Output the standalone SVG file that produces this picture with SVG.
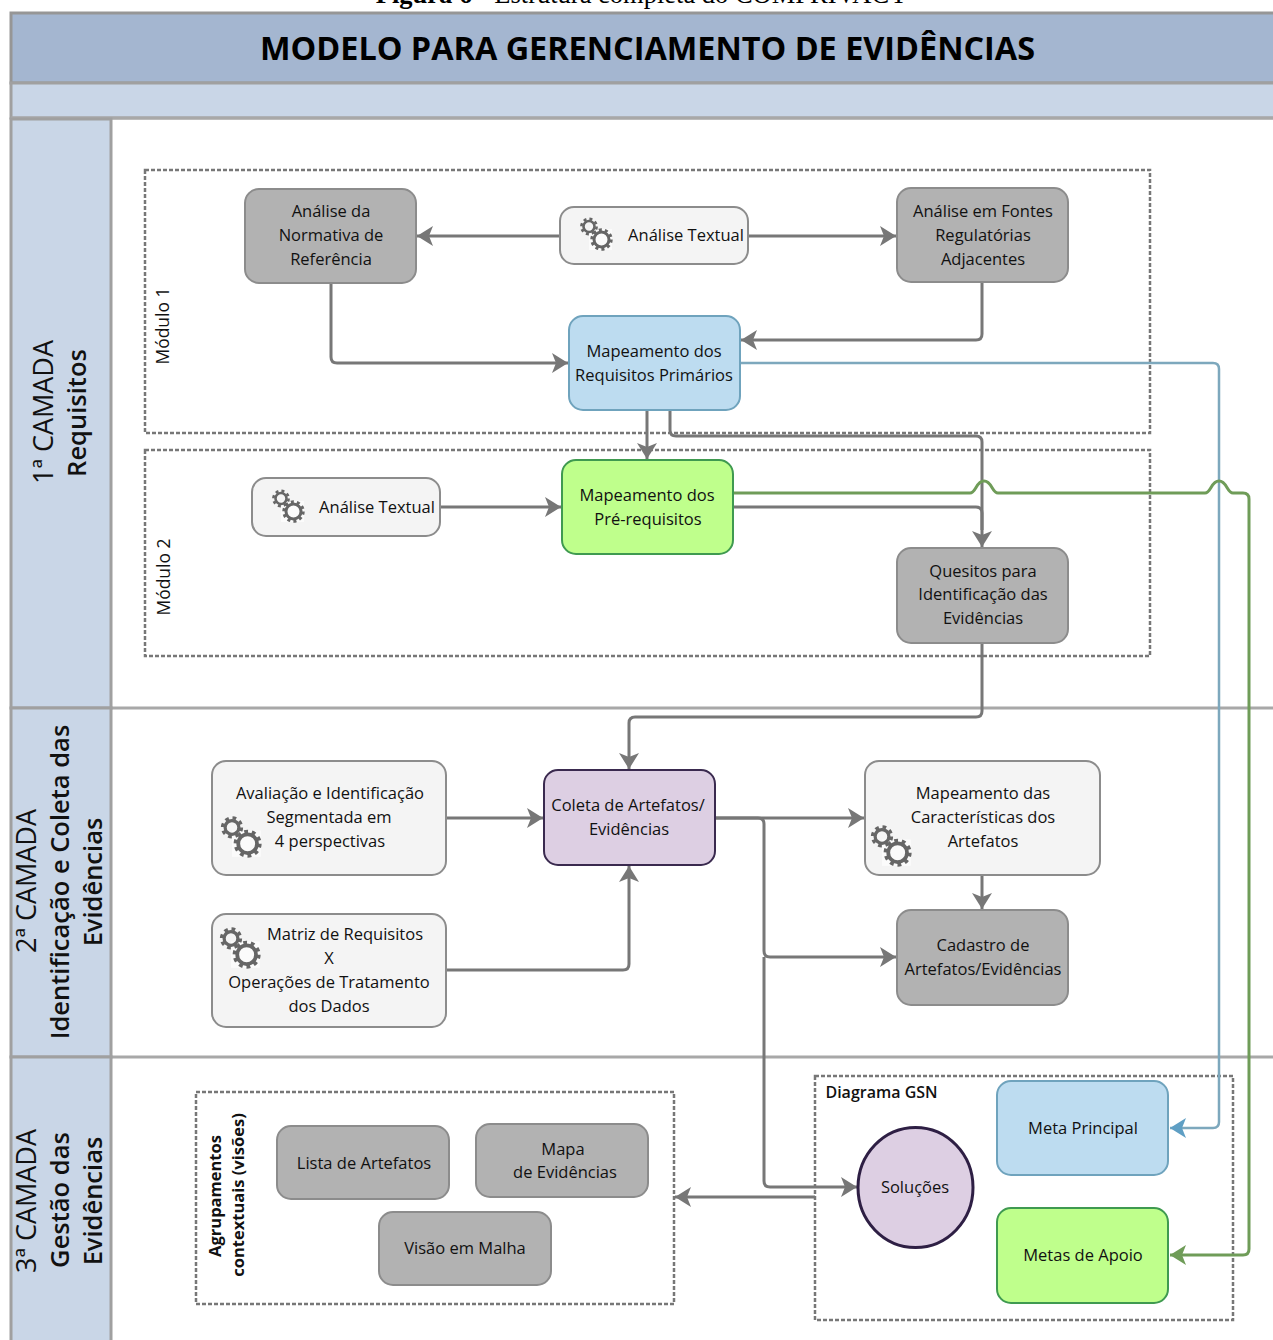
<svg xmlns="http://www.w3.org/2000/svg" width="1273" height="1340" viewBox="0 0 1273 1340">
<style>
text{font-family:"Open Sans","Liberation Sans",sans-serif;font-size:16.5px;fill:#111;text-anchor:middle}
.gray{fill:#b2b2b2;stroke:#8c8c8c;stroke-width:2}
.light{fill:#f4f4f4;stroke:#8c8c8c;stroke-width:2}
.blue{fill:#bddcf0;stroke:#6fa3bd;stroke-width:2}
.green{fill:#bfff8c;stroke:#3f9a50;stroke-width:2}
.purple{fill:#ddcfe3;stroke:#3a2a4f;stroke-width:2}
.dash{fill:none;stroke:#777;stroke-width:2.5;stroke-dasharray:4 2}
.c{fill:none;stroke:#777;stroke-width:3;stroke-linejoin:round}
.b{fill:none;stroke:#7da8bd;stroke-width:2.5;stroke-linejoin:round}
.g{fill:none;stroke:#6f9c58;stroke-width:3;stroke-linejoin:round}
.lane{fill:#c9d6e7;stroke:#a0a0a0;stroke-width:3}
.lt{font-size:27px}
.lb{font-size:25.500px;font-weight:600}
.mod{font-size:17.500px}
.agr{font-size:16.500px;font-weight:700}
</style>
<defs>
<marker id="a" markerUnits="userSpaceOnUse" markerWidth="18" markerHeight="22" refX="16" refY="11" orient="auto"><path d="M0 1L16 11L0 21L4 11Z" fill="#777"/></marker>
<marker id="ab" markerUnits="userSpaceOnUse" markerWidth="18" markerHeight="22" refX="16" refY="11" orient="auto"><path d="M0 1L16 11L0 21L4 11Z" fill="#5f9fc4"/></marker>
<marker id="ag" markerUnits="userSpaceOnUse" markerWidth="18" markerHeight="22" refX="16" refY="11" orient="auto"><path d="M0 1L16 11L0 21L4 11Z" fill="#6f9c58"/></marker>
<g id="gear" fill="none" stroke="#666">
<rect x="8" y="10" width="23" height="21" fill="#fbfbfb" stroke="none"/>
<circle cx="8" cy="7.500" r="5.500" stroke-width="2.600"/><circle cx="8" cy="7.500" r="7.600" stroke-width="2.600" stroke-dasharray="3 3"/>
<circle cx="20.500" cy="20.500" r="7.500" stroke-width="3"/><circle cx="20.500" cy="20.500" r="9.700" stroke-width="3" stroke-dasharray="3.050 3.050"/>
</g>
</defs>
<rect width="1273" height="1340" fill="#fff"/>
<text x="642" y="3" style="font-family:'Liberation Serif',serif;font-size:26.500px;fill:#000"><tspan font-weight="700">Figura 6</tspan> - Estrutura completa do COMPRIVACY</text>

<g id="header">
<rect x="11" y="13" width="1270" height="70" fill="#a4b6d0" stroke="#969696" stroke-width="3"/>
<rect x="11" y="83" width="1270" height="35" class="lane"/>
<text x="647.500" y="60" textLength="775" lengthAdjust="spacingAndGlyphs" style="font-size:33px;font-weight:700;fill:#000">MODELO PARA GERENCIAMENTO DE EVIDÊNCIAS</text>
</g>

<g id="lanes">
<path d="M11 118H1280M11 708H1280M11 1057H1280" fill="none" stroke="#a8a8a8" stroke-width="3"/>
<rect x="11" y="119" width="100" height="589" class="lane"/>
<rect x="11" y="708" width="100" height="349" class="lane"/>
<rect x="11" y="1057" width="100" height="290" class="lane"/>
<text transform="translate(53,412) rotate(-90)" class="lt">1ª CAMADA</text>
<text transform="translate(86,413) rotate(-90)" class="lb">Requisitos</text>
<text transform="translate(36,881) rotate(-90)" class="lt">2ª CAMADA</text>
<text transform="translate(69,882) rotate(-90)" class="lb">Identificação e Coleta das</text>
<text transform="translate(102,882) rotate(-90)" class="lb">Evidências</text>
<text transform="translate(36,1201) rotate(-90)" class="lt">3ª CAMADA</text>
<text transform="translate(69,1200) rotate(-90)" class="lb">Gestão das</text>
<text transform="translate(102,1201) rotate(-90)" class="lb">Evidências</text>
</g>

<g id="containers">
<rect x="145" y="170" width="1005" height="263" class="dash"/>
<rect x="145" y="450" width="1005" height="206" class="dash"/>
<rect x="196" y="1092" width="478" height="212" class="dash"/>
<rect x="815" y="1076" width="418" height="244" class="dash"/>
<text transform="translate(169,326) rotate(-90)" class="mod">Módulo 1</text>
<text transform="translate(170,577) rotate(-90)" class="mod">Módulo 2</text>
<text transform="translate(221,1196) rotate(-90)" class="agr">Agrupamentos</text>
<text transform="translate(244,1195) rotate(-90)" class="agr">contextuais (visões)</text>
<text x="881.500" y="1098" style="font-size:16px;font-weight:600">Diagrama GSN</text>
</g>

<g id="connectors">
<path class="c" marker-end="url(#a)" d="M560 236H417"/>
<path class="c" marker-end="url(#a)" d="M748 236H896"/>
<path class="c" marker-end="url(#a)" d="M331 283V357Q331 363 337 363H568"/>
<path class="c" marker-end="url(#a)" d="M982 283V334Q982 340 976 340H741"/>
<path class="c" marker-end="url(#a)" d="M647 410V459"/>
<path class="c" marker-end="url(#a)" d="M670 410V430Q670 436 676 436H976Q982 436 982 442V547"/>
<path class="c" marker-end="url(#a)" d="M440 507H561"/>
<path class="c" d="M733 507H976Q982 507 982 513V530"/>
<path class="c" marker-end="url(#a)" d="M982 643V711Q982 717 976 717H635Q629 717 629 723V769"/>
<path class="c" marker-end="url(#a)" d="M447 818H543"/>
<path class="c" marker-end="url(#a)" d="M447 970H623Q629 970 629 964V866"/>
<path class="c" marker-end="url(#a)" d="M715 818H864"/>
<path class="c" marker-end="url(#a)" d="M982 875V909"/>
<path class="c" marker-end="url(#a)" d="M715 818H758Q764 818 764 824V951Q764 957 770 957H896"/>
<path class="c" marker-end="url(#a)" d="M764 957V1181Q764 1187 770 1187H857"/>
<path class="c" marker-end="url(#a)" d="M815 1197H675"/>
<path class="b" marker-end="url(#ab)" d="M740 363H1213Q1219 363 1219 369V1122Q1219 1128 1213 1128H1170"/>
<path class="g" marker-end="url(#ag)" d="M733 493H970C976 493 976 481 984 481C992 481 992 493 998 493H1205C1211 493 1211 481 1219 481C1227 481 1227 493 1233 493H1243Q1249 493 1249 499V1249Q1249 1255 1243 1255H1170"/>
</g>

<g id="n-normativa"><rect x="245" y="189" width="171" height="94" rx="14" class="gray"/><text x="331" y="217">Análise da</text><text x="331" y="241">Normativa de</text><text x="331" y="265">Referência</text></g>
<g id="n-textual1"><rect x="560" y="207" width="188" height="57" rx="14" class="light"/><use href="#gear" x="581" y="219"/><text x="686" y="241">Análise Textual</text></g>
<g id="n-fontes"><rect x="897" y="188" width="171" height="94" rx="14" class="gray"/><text x="983" y="217">Análise em Fontes</text><text x="983" y="241">Regulatórias</text><text x="983" y="265">Adjacentes</text></g>
<g id="n-primarios"><rect x="569" y="316" width="171" height="94" rx="14" class="blue"/><text x="654" y="357">Mapeamento dos</text><text x="654" y="381">Requisitos Primários</text></g>
<g id="n-textual2"><rect x="252" y="478" width="188" height="58" rx="14" class="light"/><use href="#gear" x="273" y="491"/><text x="377" y="513">Análise Textual</text></g>
<g id="n-prereq"><rect x="562" y="460" width="171" height="94" rx="14" class="green"/><text x="647" y="501">Mapeamento dos</text><text x="648" y="525">Pré-requisitos</text></g>
<g id="n-quesitos"><rect x="897" y="548" width="171" height="95" rx="14" class="gray"/><text x="983" y="577">Quesitos para</text><text x="983" y="600">Identificação das</text><text x="983" y="624">Evidências</text></g>
<g id="n-avaliacao"><rect x="212" y="761" width="234" height="114" rx="14" class="light"/><use href="#gear" transform="translate(222,818) scale(1.250)"/><text x="330" y="799">Avaliação e Identificação</text><text x="329" y="823">Segmentada em</text><text x="330" y="847">4 perspectivas</text></g>
<g id="n-matriz"><rect x="212" y="914" width="234" height="113" rx="14" class="light"/><use href="#gear" transform="translate(221,929) scale(1.250)"/><text x="345" y="940">Matriz de Requisitos</text><text x="329" y="964">X</text><text x="329" y="988">Operações de Tratamento</text><text x="329" y="1012">dos Dados</text></g>
<g id="n-coleta"><rect x="544" y="770" width="171" height="95" rx="14" class="purple"/><text x="628" y="811">Coleta de Artefatos/</text><text x="629" y="835">Evidências</text></g>
<g id="n-caracteristicas"><rect x="865" y="761" width="235" height="114" rx="14" class="light"/><use href="#gear" transform="translate(872,827) scale(1.250)"/><text x="983" y="799">Mapeamento das</text><text x="983" y="823">Características dos</text><text x="983" y="847">Artefatos</text></g>
<g id="n-cadastro"><rect x="897" y="910" width="171" height="95" rx="14" class="gray"/><text x="983" y="951">Cadastro de</text><text x="983" y="975">Artefatos/Evidências</text></g>
<g id="n-lista"><rect x="277" y="1126" width="172" height="73" rx="14" class="gray"/><text x="364" y="1169">Lista de Artefatos</text></g>
<g id="n-mapa"><rect x="476" y="1124" width="172" height="73" rx="14" class="gray"/><text x="563" y="1155">Mapa</text><text x="565" y="1178">de Evidências</text></g>
<g id="n-malha"><rect x="379" y="1212" width="172" height="73" rx="14" class="gray"/><text x="465" y="1254">Visão em Malha</text></g>
<g id="n-meta"><rect x="997" y="1081" width="171" height="94" rx="14" class="blue"/><text x="1083" y="1134">Meta Principal</text></g>
<g id="n-apoio"><rect x="997" y="1208" width="171" height="95" rx="14" class="green"/><text x="1083" y="1261">Metas de Apoio</text></g>
<g id="n-solucoes"><ellipse cx="915.500" cy="1187.500" rx="57.500" ry="60" class="purple" style="stroke-width:3;stroke:#2e1f44"/><text x="915" y="1193">Soluções</text></g>
</svg>
